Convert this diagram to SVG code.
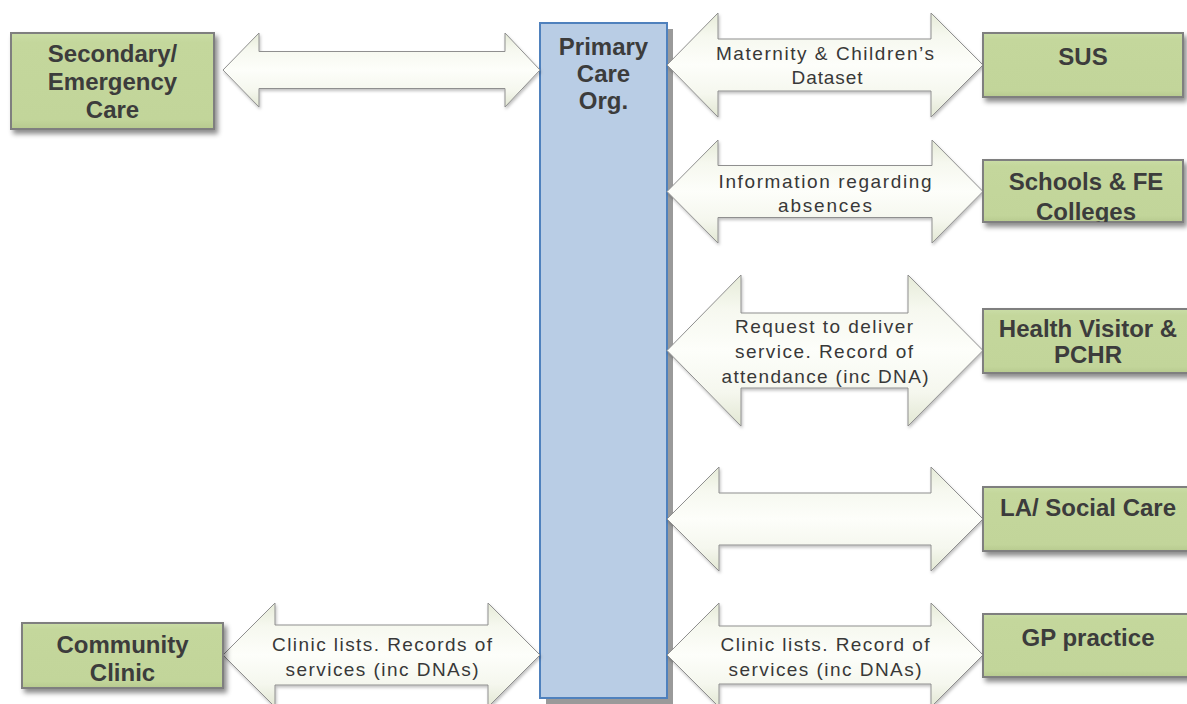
<svg xmlns="http://www.w3.org/2000/svg" width="1187" height="704" viewBox="0 0 1187 704">
  <defs>
    <!-- soft pale fill for the double-headed flow arrows -->
    <linearGradient id="arrowFill" x1="0" y1="0" x2="0" y2="1">
      <stop offset="0" stop-color="#e6ebd8"/>
      <stop offset="0.22" stop-color="#f6f8ef"/>
      <stop offset="0.5" stop-color="#fdfefa"/>
      <stop offset="0.78" stop-color="#f5f7ee"/>
      <stop offset="1" stop-color="#e2e7d3"/>
    </linearGradient>
    <!-- green box fill with a faint bevel -->
    <linearGradient id="greenFill" x1="0" y1="0" x2="0" y2="1">
      <stop offset="0" stop-color="#cadda6"/>
      <stop offset="0.1" stop-color="#c4d79c"/>
      <stop offset="0.9" stop-color="#c2d59a"/>
      <stop offset="1" stop-color="#b7ca8f"/>
    </linearGradient>
    <filter id="boxShadow" x="-10%" y="-20%" width="125%" height="150%">
      <feDropShadow dx="3" dy="4" stdDeviation="2.5" flood-color="#000" flood-opacity="0.45"/>
    </filter>
    <filter id="arrowShadow" x="-5%" y="-10%" width="110%" height="125%">
      <feDropShadow dx="1" dy="2" stdDeviation="1.5" flood-color="#000" flood-opacity="0.25"/>
    </filter>
    <clipPath id="clipSchools">
      <rect x="983" y="160" width="200" height="62"/>
    </clipPath>
  </defs>
  <style>
    .flow { fill: url(#arrowFill); stroke: #8f8f8f; stroke-width: 1; filter: url(#arrowShadow); }
    .box { fill: url(#greenFill); stroke: #7f7f7f; stroke-width: 2; filter: url(#boxShadow); }
    .hub { fill: #b9cde5; stroke: #4f81bd; stroke-width: 2; }
    .hubShadow { fill: #9a9a9a; }
    .name { font-family: "Liberation Sans", Arial, sans-serif; font-weight: bold; font-size: 24px; fill: #3c3c3c; text-anchor: middle; }
    .lbl { font-family: "Liberation Sans", Arial, sans-serif; font-size: 19px; fill: #383838; text-anchor: middle; }
  </style>

  <!-- central hub, drawn first so the arrow tips sit over its shadow -->
  <g id="primary-care">
    <rect class="hubShadow" x="546" y="29" width="127" height="675"/>
    <rect class="hub" x="540" y="23" width="127" height="675"/>
    <text class="name" x="603.5" y="55">Primary</text>
    <text class="name" x="603.5" y="82">Care</text>
    <text class="name" x="603.5" y="109">Org.</text>
  </g>

  <!-- connectors: double-headed block arrows with their labels -->
  <g id="connectors">
    <g id="link-secondary">
      <polygon class="flow" points="223,70 259,33 259,51.5 505,51.5 505,33 540,70 505,107 505,88.5 259,88.5 259,107"/>
    </g>
    <g id="link-sus">
      <polygon class="flow" points="667,65 718,13 718,39 931,39 931,13 983,65 931,117 931,91 718,91 718,117"/>
      <text class="lbl" x="825" y="60" textLength="218">Maternity &amp; Children’s</text>
      <text class="lbl" x="827" y="84" textLength="71">Dataset</text>
    </g>
    <g id="link-schools">
      <polygon class="flow" points="667,191.5 718,140 718,165.5 932,165.5 932,140 983,191.5 932,243 932,217.5 718,217.5 718,243"/>
      <text class="lbl" x="825" y="188" textLength="213">Information regarding</text>
      <text class="lbl" x="825" y="212" textLength="94">absences</text>
    </g>
    <g id="link-hv">
      <polygon class="flow" points="667,350.5 741,275 741,313 908,313 908,275 983,350.5 908,426 908,388 741,388 741,426"/>
      <text class="lbl" x="824" y="333" textLength="178">Request to deliver</text>
      <text class="lbl" x="824" y="358" textLength="178">service. Record of</text>
      <text class="lbl" x="825" y="383" textLength="207">attendance (inc DNA)</text>
    </g>
    <g id="link-la">
      <polygon class="flow" points="667,519 719,467 719,493 931,493 931,467 983,519 931,571 931,545 719,545 719,571"/>
    </g>
    <g id="link-gp">
      <polygon class="flow" points="667,655 719,603 719,626 931,626 931,603 983,655 931,707 931,684 719,684 719,707"/>
      <text class="lbl" x="825" y="651" textLength="209">Clinic lists. Record of</text>
      <text class="lbl" x="825" y="676" textLength="193">services (inc DNAs)</text>
    </g>
    <g id="link-community">
      <polygon class="flow" points="223,655 275,603 275,625 488,625 488,603 540,655 488,707 488,685 275,685 275,707"/>
      <text class="lbl" x="382" y="651" textLength="220">Clinic lists. Records of</text>
      <text class="lbl" x="382" y="676" textLength="193">services (inc DNAs)</text>
    </g>
  </g>

  <g id="secondary-care">
    <rect class="box" x="11" y="33" width="203" height="96"/>
    <text class="name" x="112.5" y="62">Secondary/</text>
    <text class="name" x="112.5" y="90">Emergency</text>
    <text class="name" x="112.5" y="118">Care</text>
  </g>

  <g id="community-clinic">
    <rect class="box" x="22" y="623" width="201" height="65"/>
    <text class="name" x="122.5" y="653">Community</text>
    <text class="name" x="122.5" y="681">Clinic</text>
  </g>

  <g id="sus">
    <rect class="box" x="983" y="33" width="200" height="64"/>
    <text class="name" x="1083" y="65">SUS</text>
  </g>

  <g id="schools">
    <rect class="box" x="983" y="160" width="200" height="62"/>
    <g clip-path="url(#clipSchools)">
      <text class="name" x="1086" y="190">Schools &amp; FE</text>
      <text class="name" x="1086" y="220">Colleges</text>
    </g>
  </g>

  <g id="health-visitor">
    <rect class="box" x="983" y="309" width="210" height="64"/>
    <text class="name" x="1088" y="337">Health Visitor &amp;</text>
    <text class="name" x="1088" y="363">PCHR</text>
  </g>

  <g id="la-social-care">
    <rect class="box" x="983" y="487" width="210" height="64"/>
    <text class="name" x="1088" y="516">LA/ Social Care</text>
  </g>

  <g id="gp-practice">
    <rect class="box" x="983" y="614" width="210" height="63"/>
    <text class="name" x="1088" y="646">GP practice</text>
  </g>
</svg>
